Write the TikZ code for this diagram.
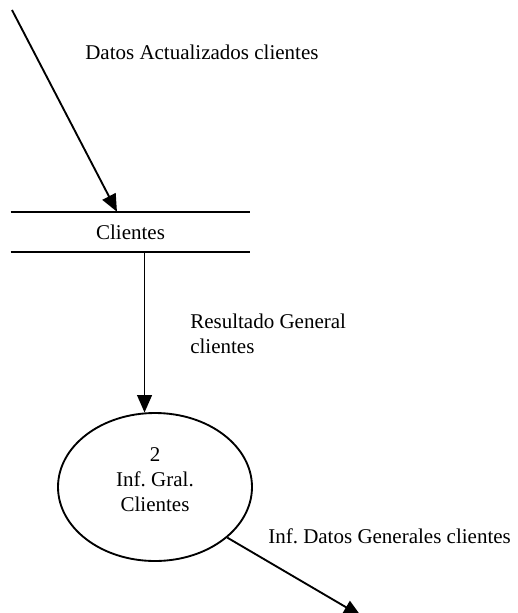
\documentclass[tikz,border=0pt]{standalone}
\usepackage{fontspec}
\setmainfont{Liberation Serif}
\frenchspacing
\usetikzlibrary{arrows.meta,calc,shapes.geometric}
\tikzset{
  flow/.style={line width=1.4pt,-{Triangle[length=13pt,width=11pt]}},
  txt/.style={inner sep=0pt,font=\fontsize{15.75}{18.75}\selectfont},
  storeline/.style={line width=1.4pt},
  proc/.style={ellipse,draw,line width=1.4pt,minimum width=145.5pt,minimum height=111pt,inner sep=0pt}
}
\begin{document}
\begin{tikzpicture}[x=0.75pt,y=-0.75pt]
\useasboundingbox (0,0) rectangle (517,613);
% data store
\node[txt,minimum width=179.25pt,minimum height=30pt] (st) at (130.5,232) {Clientes};
\draw[storeline] (st.north west) -- (st.north east);
\draw[storeline] (st.south west) -- (st.south east);
% process
\node[proc] (p2) at (155,487) {};
\node[txt,align=center] (p2t) at (155,480) {2\\Inf. Gral.\\Clientes};
% free ends
\coordinate (src) at (12,10);
\coordinate (out) at (361,616);
% connectors
\draw[flow] (src) -- ($(st.north west)!0.4435!(st.north east)$);
\draw[flow] (p2.98.5 |- st.south) -- (p2.98.5);
\draw[flow] (p2.-35) -- (out);
% labels
\node[txt,anchor=base west] (l1) at (85,60) {Datos Actualizados clientes};
\node[txt,anchor=north west,align=left] (l2) at (190,313.7) {Resultado General\\clientes};
\node[txt,anchor=base west] (l3) at (268,543) {Inf. Datos Generales clientes};
\end{tikzpicture}
\end{document}
